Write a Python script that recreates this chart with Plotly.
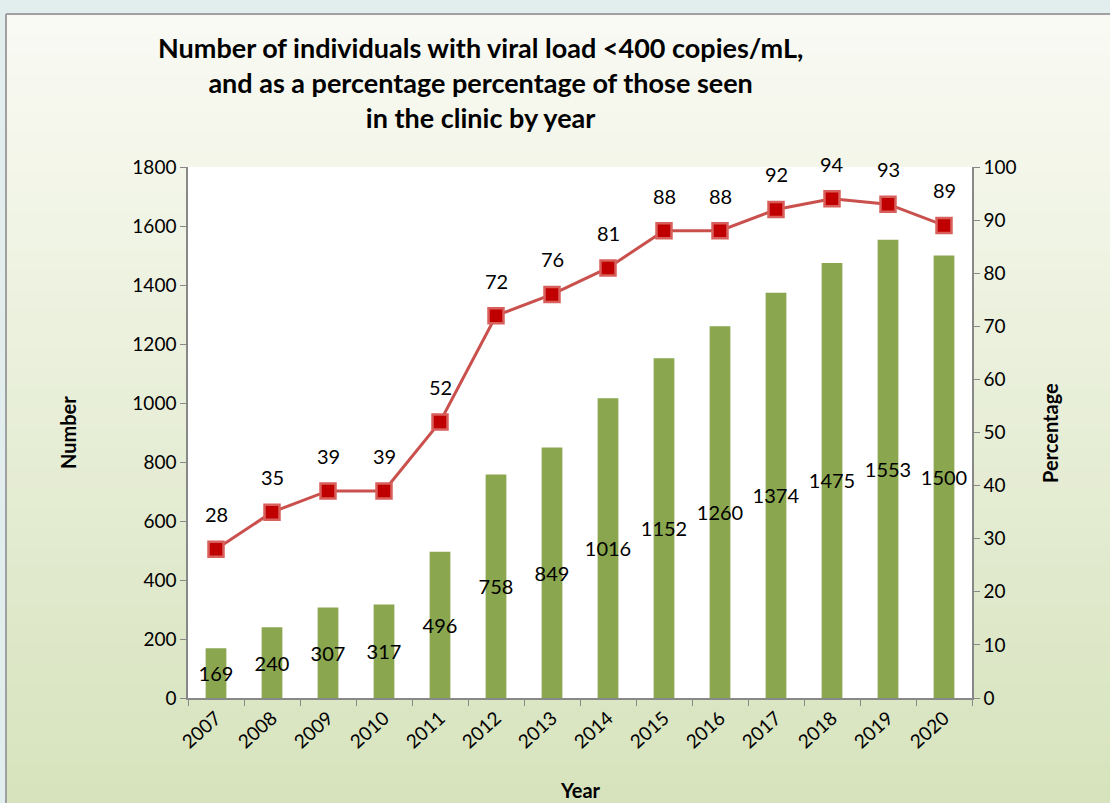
import plotly.graph_objects as go

years = ["2007", "2008", "2009", "2010", "2011", "2012", "2013",
         "2014", "2015", "2016", "2017", "2018", "2019", "2020"]
numbers = [169, 240, 307, 317, 496, 758, 849, 1016, 1152, 1260, 1374, 1475, 1553, 1500]
percentages = [28, 35, 39, 39, 52, 72, 76, 81, 88, 88, 92, 94, 93, 89]

title_lines = ["Number of individuals with viral load &lt;400 copies/mL,",
               "and as a percentage percentage of those seen",
               "in the clinic by year"]

W, H = 1110, 803
OFF = 0  # body margin removed via post_script
# reference screen positions of plot area
L_REF, R_REF, T_REF, B_REF = 188, 972, 167, 698
ML, MT = L_REF - OFF, T_REF - OFF
MR, MB = W - (R_REF - OFF), H - (B_REF - OFF)
pw, ph = W - ML - MR, H - MT - MB

FONT = "Lato, 'Open Sans', sans-serif"


def px_y(y):
    return (H - MB - (y - OFF)) / ph


def px_x(x):
    return ((x - OFF) - ML) / pw


fig = go.Figure()

fig.add_trace(go.Bar(
    x=years, y=numbers, name="Number",
    marker=dict(color="#8aa64f", line=dict(width=0)),
    width=0.37,
    text=[str(v) for v in numbers],
    textposition="inside", insidetextanchor="middle",
    textangle=0, constraintext="none",
    insidetextfont=dict(color="black", size=20, family=FONT),
    cliponaxis=False,
))

fig.add_trace(go.Scatter(
    x=years, y=percentages, yaxis="y2", name="Percentage",
    mode="lines+markers",
    line=dict(color="#c9504d", width=3),
    marker=dict(symbol="square", size=15, color="#c00000",
                line=dict(color="#d8605c", width=2.5)),
    cliponaxis=False,
))

annotations = []
for i, p in enumerate(percentages):
    annotations.append(dict(x=i, y=p, xref="x", yref="y2", text=str(p),
                            showarrow=False, yshift=35,
                            font=dict(size=20, color="black", family=FONT)))

# title
annotations.append(dict(x=px_x(480), y=px_y(83), xref="paper", yref="paper",
                        text="<br>".join(title_lines), showarrow=False,
                        font=dict(size=27, color="black", family="Lato, sans-serif", weight="bold"),
                        xanchor="center", yanchor="middle", align="center"))

# axis titles
annotations.append(dict(x=px_x(68), y=px_y(433), xref="paper", yref="paper",
                        text="<b>Number</b>", textangle=-90, showarrow=False,
                        xanchor="center", yanchor="middle",
                        font=dict(size=20, color="black", family=FONT)))
annotations.append(dict(x=px_x(1050), y=px_y(433), xref="paper", yref="paper",
                        text="<b>Percentage</b>", textangle=-90, showarrow=False,
                        xanchor="center", yanchor="middle",
                        font=dict(size=20, color="black", family=FONT)))
annotations.append(dict(x=px_x(580), y=px_y(790), xref="paper", yref="paper",
                        text="<b>Year</b>", showarrow=False,
                        xanchor="center", yanchor="middle",
                        font=dict(size=20, color="black", family=FONT)))

# background gradient via bands
shapes = []
top_px = 14
left_px = 6
n = 40
c0 = (0xf9, 0xfa, 0xf3)
c1 = (0xd7, 0xe3, 0xbd)
for i in range(n):
    t = i / (n - 1)
    c = tuple(round(c0[k] + (c1[k] - c0[k]) * t) for k in range(3))
    ytop = top_px + (H - top_px) * i / n
    ybot = top_px + (H - top_px) * (i + 1) / n + 1
    shapes.append(dict(type="rect", xref="paper", yref="paper",
                       x0=px_x(left_px), x1=px_x(W + 20),
                       y0=px_y(ybot + 10), y1=px_y(ytop),
                       fillcolor="rgb(%d,%d,%d)" % c, line=dict(width=0), layer="below"))
# frame lines
shapes.append(dict(type="line", xref="paper", yref="paper",
                   x0=px_x(left_px), x1=px_x(W + 20), y0=px_y(top_px), y1=px_y(top_px),
                   line=dict(color="#a0a0a0", width=2), layer="below"))
shapes.append(dict(type="line", xref="paper", yref="paper",
                   x0=px_x(left_px), x1=px_x(left_px), y0=px_y(H + 20), y1=px_y(top_px),
                   line=dict(color="#a0a0a0", width=2), layer="below"))
# white plot area
shapes.append(dict(type="rect", xref="paper", yref="paper", x0=0, x1=1, y0=0, y1=1,
                   fillcolor="white", line=dict(width=0), layer="below"))

fig.update_layout(
    width=W, height=H,
    margin=dict(l=ML, r=MR, t=MT, b=MB, pad=0),
    paper_bgcolor="#e2eeee",
    plot_bgcolor="white",
    showlegend=False,
    font=dict(family=FONT, color="black"),
    xaxis=dict(type="category", categoryorder="array", categoryarray=years,
               range=[-0.5, len(years) - 0.5],
               tickson="boundaries", ticks="outside", ticklen=6,
               tickcolor="#888888", showline=True, linecolor="#888888", linewidth=1.5,
               tickangle=-42, tickfont=dict(size=19, family=FONT, color="black"),
               showgrid=False),
    yaxis=dict(range=[0, 1800], dtick=200, ticks="outside", ticklen=6, tickcolor="#888888",
               showline=True, linecolor="#888888", linewidth=1.5, showgrid=False, zeroline=False,
               tickfont=dict(size=19, family=FONT, color="black")),
    yaxis2=dict(range=[0, 100], dtick=10, overlaying="y", side="right", ticks="outside",
                ticklen=6, tickcolor="#888888", showline=True, linecolor="#888888", linewidth=1.5,
                showgrid=False, zeroline=False,
                tickfont=dict(size=19, family=FONT, color="black")),
    annotations=annotations,
    shapes=shapes,
)

fig.write_html("out.html",
               config={"displayModeBar": False},
               post_script="document.body.style.margin='0';document.body.style.overflow='hidden';")
